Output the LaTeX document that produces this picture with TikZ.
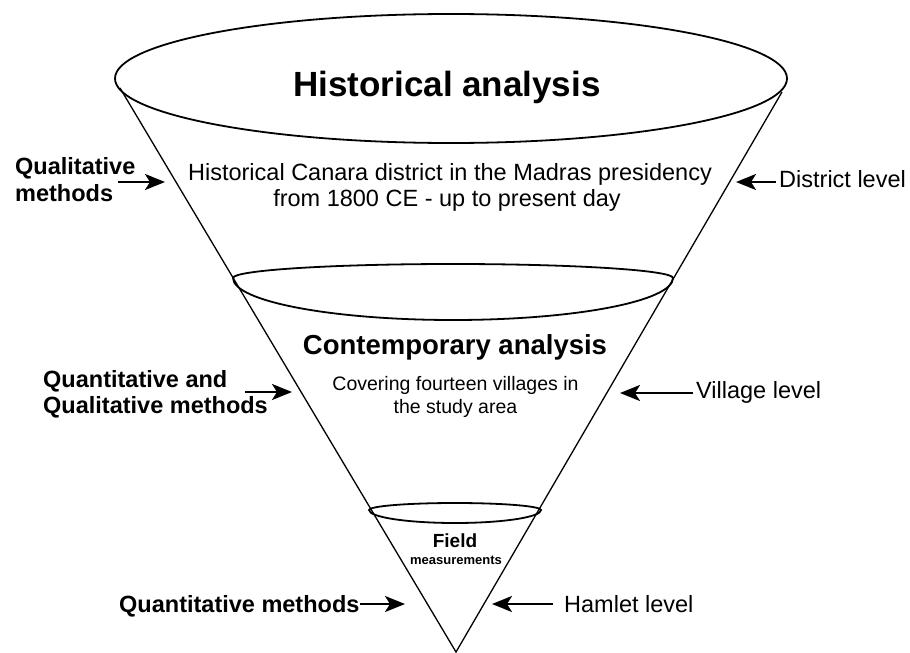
\documentclass[tikz,border=0pt]{standalone}
\usepackage{fontspec}
\setmainfont{Liberation Sans}
\usetikzlibrary{arrows.meta}
\begin{document}
\begin{tikzpicture}[x=1pt,y=-1pt,
  rim/.style={line width=1.8pt},
  side/.style={line width=1.3pt},
  pointer/.style={line width=2.5pt,-{Stealth[length=20pt,width=16pt,inset=5pt]}},
  lbl/.style={inner sep=0pt,anchor=base west,font=\fontsize{23.5}{28}\selectfont\bfseries},
  lvl/.style={inner sep=0pt,anchor=base west,font=\fontsize{23.5}{28}\selectfont},
  txt/.style={inner sep=0pt,anchor=base},
]
\useasboundingbox (0,0) rectangle (910,653);
\fill[white] (0,0) rectangle (910,653);

% cone
\coordinate (tip) at (456,652);
\coordinate (tl) at (120,88);
\coordinate (tr) at (782,92);
\draw[side] (tl) -- (tip) -- (tr);

% rims
\draw[rim] (451,78.5) ellipse [x radius=336pt, y radius=64.5pt];
\draw[rim] (233,278) arc [start angle=180,end angle=0,x radius=220pt,y radius=14pt]
                     arc [start angle=0,end angle=-180,x radius=220pt,y radius=42pt] -- cycle;
\draw[rim] (369,510) arc [start angle=180,end angle=0,x radius=86pt,y radius=7pt]
                     arc [start angle=0,end angle=-180,x radius=86pt,y radius=13pt] -- cycle;

% texts inside
\node[txt,font=\fontsize{35}{42}\selectfont\bfseries] (hist) at (447,96) {Historical analysis};
\node[txt,font=\fontsize{23.5}{28}\selectfont] (hist1) at (450,180) {Historical Canara district in the Madras presidency};
\node[txt,font=\fontsize{23.5}{28}\selectfont] (hist2) at (447,206) {from 1800 CE - up to present day};
\node[txt,font=\fontsize{27.5}{33}\selectfont\bfseries] (cont) at (455,354) {Contemporary analysis};
\node[txt,font=\fontsize{19.5}{23}\selectfont] (cov1) at (455.5,390) {Covering fourteen villages in};
\node[txt,font=\fontsize{19.5}{23}\selectfont] (cov2) at (455.5,413) {the study area};
\node[txt,font=\fontsize{19}{23}\selectfont\bfseries] (field) at (455,547) {Field};
\node[txt,font=\fontsize{13}{16}\selectfont\bfseries] (meas) at (456,564) {measurements};

% side labels
\node[lbl] (qm1) at (15,174) {Qualitative};
\node[lbl] (qm2) at (15,201) {methods};
\node[lvl] (dist) at (779,187) {District level};
\node[lbl] (qq1) at (43,387) {Quantitative and};
\node[lbl] (qq2) at (43,413) {Qualitative methods};
\node[lvl] (vil) at (696,398) {Village level};
\node[lbl] (qn) at (119,612) {Quantitative methods};
\node[lvl] (ham) at (564,612) {Hamlet level};

% arrows
\coordinate (a1s) at (118,182); \coordinate (a1e) at (165,182);
\coordinate (a2s) at (776,182); \coordinate (a2e) at (736,182);
\coordinate (a3s) at (245,392); \coordinate (a3e) at (292,392);
\coordinate (a4s) at (693,393); \coordinate (a4e) at (620,393);
\coordinate (a5s) at (360,604); \coordinate (a5e) at (405,604);
\coordinate (a6s) at (553,604); \coordinate (a6e) at (492,604);
\draw[pointer] (a1s) -- (a1e);
\draw[pointer] (a2s) -- (a2e);
\draw[pointer] (a3s) -- (a3e);
\draw[pointer] (a4s) -- (a4e);
\draw[pointer] (a5s) -- (a5e);
\draw[pointer] (a6s) -- (a6e);
\end{tikzpicture}
\end{document}
